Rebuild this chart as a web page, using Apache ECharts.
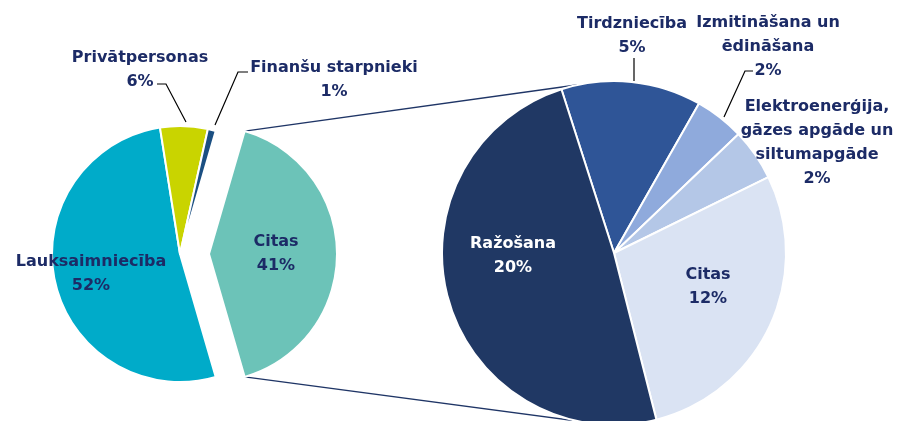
<!DOCTYPE html>
<html>
<head>
<meta charset="utf-8">
<script src="https://cdn.jsdelivr.net/npm/echarts@6/dist/echarts.min.js"></script>
<style>
  html, body { margin: 0; background: #fff; }
  #chart { width: 900px; height: 421px; }
</style>
</head>
<body>
<div id="chart"></div>
<script>
// main pie (share of total, %)
const mainNames = ['Citas', 'Lauksaimniecība', 'Privātpersonas', 'Finanšu starpnieki']
const mainValues = [41, 52, 6, 1]
const mainColors = ['#6CC3B8', '#00ABC9', '#C9D400', '#1B4F82']

// breakdown of "Citas" (share of total, %)
const detailNames = ['Tirdzniecība', 'Izmitināšana un\nēdināšana', 'Elektroenerģija,\ngāzes apgāde un\nsiltumapgāde', 'Citas', 'Ražošana']
const detailValues = [5.4, 1.9, 2.0, 11.6, 20.1]
const detailColors = ['#2F5597', '#8FAADC', '#B4C7E7', '#DAE3F3', '#203864']

const textColor = '#1C2B66'
const font = { fontFamily: 'DejaVu Sans', fontWeight: 'bold', fontSize: 16, lineHeight: 24 }

// geometry
const c1 = [180, 254], r1 = 128, explode = 29
const c2 = [614, 253], r2 = 172
const mainStart = (mainValues[0] / 100) * 360 / 2

// label anchors and leader lines
const mainLabels = [
  { x: 275, y: 256 },
  { x: 91, y: 274 },
  { x: 140, y: 70, line: [[157, 84], [166, 84], [186, 122]] },
  { x: 334, y: 80, line: [[248, 72], [238, 72], [215, 125]] },
]
const detailLabels = [
  { x: 632, y: 36, line: [[634, 58], [634, 81]] },
  { x: 768, y: 47, line: [[753, 71], [745, 71], [724, 117]] },
  { x: 817, y: 143 },
  { x: 708, y: 287 },
  { x: 513, y: 256, color: '#fff' },
]

const fmt = p => p.name + '\n' + Math.round(p.value) + '%'

function layoutFrom (table) {
  return p => {
    const l = table[p.dataIndex]
    return { x: l.x, y: l.y, align: 'center', verticalAlign: 'middle', hideOverlap: false }
  }
}

// connector lines: edges of exploded slice -> right pie
const a = mainStart * Math.PI / 180
const ex = c1[0] + explode + r1 * Math.cos(a)
const dy = r1 * Math.sin(a)
const b = 12 * Math.PI / 180
const rx = c2[0] - r2 * Math.sin(b)
const ry = r2 * Math.cos(b)
const navyLine = { stroke: '#1F3566', lineWidth: 1.3 }

const leaders = [...mainLabels, ...detailLabels].filter(l => l.line).map(l => ({
  type: 'polyline',
  z: 10,
  shape: { points: l.line },
  style: { stroke: '#000', lineWidth: 1.2, fill: null },
}))

const chart = echarts.init(document.getElementById('chart'), null, { renderer: 'canvas' })

chart.setOption({
  animation: false,
  backgroundColor: '#fff',
  graphic: [
    { type: 'line', z: 0, shape: { x1: ex, y1: c1[1] - dy, x2: rx, y2: c2[1] - ry }, style: navyLine },
    { type: 'line', z: 0, shape: { x1: ex, y1: c1[1] + dy, x2: rx, y2: c2[1] + ry }, style: navyLine },
    ...leaders,
  ],
  series: [
    {
      type: 'pie',
      center: c1,
      radius: [0, r1],
      startAngle: mainStart,
      clockwise: true,
      selectedMode: 'single',
      selectedOffset: explode,
      avoidLabelOverlap: false,
      itemStyle: { borderColor: '#fff', borderWidth: 2 },
      select: { itemStyle: { borderColor: '#fff', borderWidth: 2 } },
      emphasis: { disabled: true },
      label: { show: true, position: 'inside', formatter: fmt, color: textColor, ...font },
      labelLine: { show: false },
      labelLayout: layoutFrom(mainLabels),
      data: mainNames.map((n, i) => ({
        name: n,
        value: mainValues[i],
        selected: i === 0,
        itemStyle: { color: mainColors[i] },
      })),
    },
    {
      type: 'pie',
      center: c2,
      radius: [0, r2],
      startAngle: 107.8,
      clockwise: true,
      avoidLabelOverlap: false,
      itemStyle: { borderColor: '#fff', borderWidth: 2 },
      emphasis: { disabled: true },
      label: { show: true, position: 'inside', formatter: fmt, color: textColor, ...font },
      labelLine: { show: false },
      labelLayout: layoutFrom(detailLabels),
      data: detailNames.map((n, i) => ({
        name: n,
        value: detailValues[i],
        itemStyle: { color: detailColors[i] },
        label: detailLabels[i].color ? { color: detailLabels[i].color } : undefined,
      })),
    },
  ],
})
</script>
</body>
</html>
